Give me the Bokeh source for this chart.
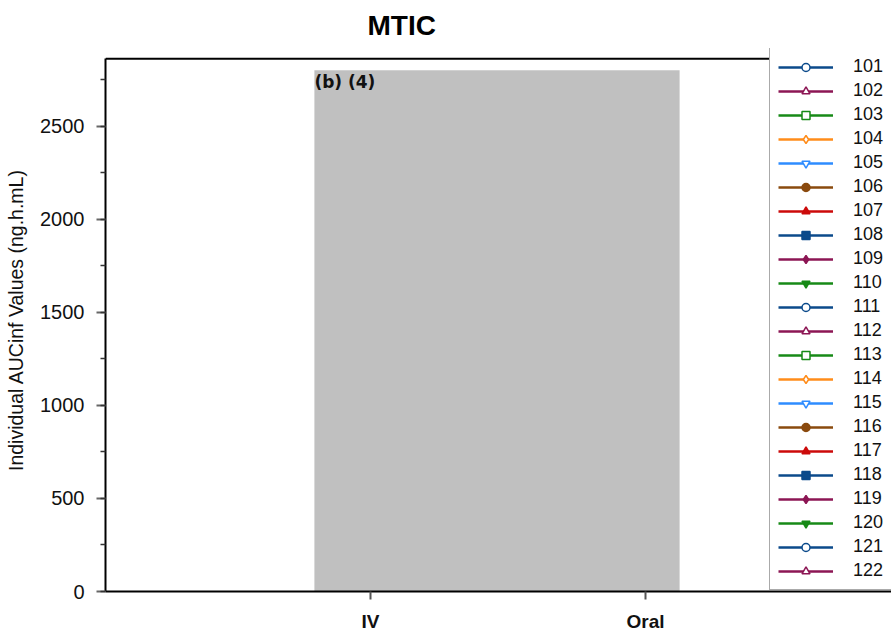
import numpy as np
from bokeh.plotting import figure
from bokeh.models import (Legend, LegendItem, ColumnDataSource, FixedTicker,
                          SingleIntervalTicker, Range1d, Title, Label, Span)
from bokeh.embed import file_html
from bokeh.resources import INLINE

# ---- data ----
title_text = "MTIC"
categories = ["IV", "Oral"]
cat_pos = [1, 2]
subjects = [str(s) for s in range(101, 123)]
y_label = "Individual AUCinf Values (ng.h.mL)"
y_axis_max = 2862

# redacted region (individual values are hidden under the redaction box)
redact_left = 0.796
redact_right = 2.124
redact_top = 2800
redact_text = "(b) (4)"

colors_cycle = ["#0b4a8b", "#8c1654", "#178a17", "#ff8c1a", "#2e8cff",
                "#8a4a0e", "#cc0a0a", "#0b4a8b", "#8c1654", "#178a17"]
markers_cycle = ["circle", "triangle", "square", "diamond", "inverted_triangle",
                 "circle", "triangle", "square", "diamond", "inverted_triangle"]
filled_cycle = [False] * 5 + [True] * 5

FONT = "Liberation Sans"

p = figure(width=891, height=635, output_backend="svg", toolbar_location=None,
           x_range=Range1d(0.0364, 2.8945), y_range=Range1d(0, 2917.5),
           min_border_left=105, min_border_right=0, min_border_top=47,
           min_border_bottom=44)
p.title = Title(text=title_text, text_font=FONT, text_font_size="28px",
                text_font_style="bold", align="left", offset=262,
                standoff=15, text_color="#000000")

p.outline_line_color = None
p.grid.visible = False
p.background_fill_color = "white"
p.border_fill_color = "white"

# top border of the plotting area
p.add_layout(Span(location=y_axis_max, dimension="width",
                  line_color="black", line_width=2))

# redaction box
p.quad(left=[redact_left], right=[redact_right], bottom=[0], top=[redact_top],
       fill_color="#c0c0c0", line_color=None)
p.add_layout(Label(x=redact_left, y=redact_top, text=redact_text,
                   text_font="DejaVu Sans", text_font_size="17px",
                   text_font_style="bold", text_baseline="top",
                   x_offset=0, y_offset=-2, text_color="#111111"))

# subject series (values hidden by redaction) -> legend entries
items = []
for i, s in enumerate(subjects):
    c = colors_cycle[i % 10]
    m = markers_cycle[i % 10]
    filled = filled_cycle[i % 10]
    src = ColumnDataSource(dict(x=[np.nan], y=[np.nan]))
    r_line = p.line("x", "y", source=src, line_color=c, line_width=2.5)
    r_mark = p.scatter("x", "y", source=src, marker=m, size=9,
                       line_color=c, line_width=1.5,
                       fill_color=c if filled else "white")
    items.append(LegendItem(label=s, renderers=[r_line, r_mark]))

legend = Legend(items=items, location=(664, 1), padding=8, margin=0,
                spacing=3, glyph_width=55, glyph_height=20, label_height=20,
                label_width=60, label_standoff=20, label_text_font=FONT,
                label_text_font_size="18px", label_text_color="#111111",
                border_line_color="#555555", border_line_width=1.5,
                background_fill_color="white", background_fill_alpha=1.0)
p.add_layout(legend, "center")

# axes
p.xaxis.ticker = FixedTicker(ticks=cat_pos)
p.xaxis.major_label_overrides = {pos: lab for pos, lab in zip(cat_pos, categories)}
p.xaxis.minor_tick_line_color = None
p.xaxis.major_tick_out = 8
p.xaxis.major_tick_in = 0
p.xaxis.major_tick_line_color = "#555555"
p.xaxis.major_tick_line_width = 2
p.xaxis.axis_line_color = "black"
p.xaxis.axis_line_width = 2
p.xaxis.major_label_text_font = FONT
p.xaxis.major_label_text_font_size = "19px"
p.xaxis.major_label_text_font_style = "bold"
p.xaxis.major_label_text_color = "#111111"
p.xaxis.major_label_standoff = 11

p.yaxis.bounds = (0, y_axis_max)
p.yaxis.ticker = SingleIntervalTicker(interval=500, num_minor_ticks=2)
p.yaxis.major_tick_out = 9
p.yaxis.major_tick_in = 0
p.yaxis.minor_tick_out = 5
p.yaxis.minor_tick_in = 0
p.yaxis.major_tick_line_color = "#666666"
p.yaxis.minor_tick_line_color = "#333333"
p.yaxis.major_tick_line_width = 2
p.yaxis.minor_tick_line_width = 1.5
p.yaxis.axis_line_color = "black"
p.yaxis.axis_line_width = 2
p.yaxis.major_label_text_font = FONT
p.yaxis.major_label_text_font_size = "20px"
p.yaxis.major_label_text_color = "#111111"
p.yaxis.major_label_standoff = 12
p.yaxis.axis_label = y_label
p.yaxis.axis_label_text_font = FONT
p.yaxis.axis_label_text_font_size = "19.5px"
p.yaxis.axis_label_text_font_style = "normal"
p.yaxis.axis_label_text_color = "#111111"
p.yaxis.axis_label_standoff = 10

open("out.html", "w").write(file_html(p, INLINE))
